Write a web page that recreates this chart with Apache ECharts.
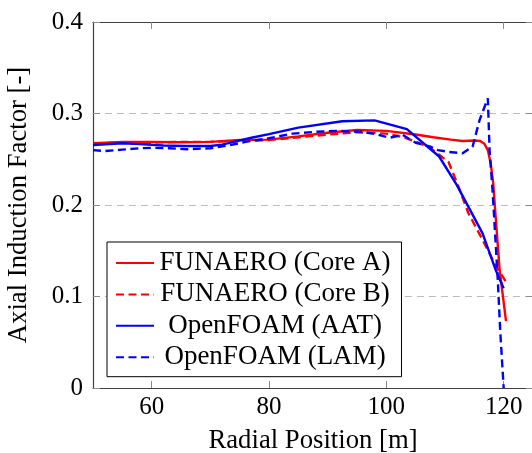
<!DOCTYPE html>
<html>
<head>
<meta charset="utf-8">
<script src="https://cdn.jsdelivr.net/npm/echarts@6/dist/echarts.min.js"></script>
<style>
  html, body { margin: 0; padding: 0; background: #fff; }
  #chartmain { width: 532px; height: 453px; }
</style>
</head>
<body>
<div id="chartmain"></div>
<script>
// values
var xTicks = [60, 80, 100, 120];
var yTicks = [0, 0.1, 0.2, 0.3, 0.4];

var names = ['FUNAERO (Core A)', 'FUNAERO (Core B)', 'OpenFOAM (AAT)', 'OpenFOAM (LAM)'];

var xCoreA = [50, 55, 60, 65, 70, 75, 80, 85, 90, 95, 100, 105, 108, 111, 113, 115, 116, 116.7, 117.3, 117.8, 118.2, 118.6, 119.3, 120.4];
var yCoreA = [0.2675, 0.269, 0.269, 0.2685, 0.269, 0.271, 0.2715, 0.275, 0.279, 0.282, 0.281, 0.277, 0.274, 0.2715, 0.270, 0.2705, 0.270, 0.267, 0.26, 0.245, 0.225, 0.19, 0.13, 0.073];

var xCoreB = [50, 55, 60, 65, 70, 75, 80, 85, 90, 95, 100, 103, 105.5, 107.5, 109, 110.6, 112.3, 114, 116.4, 118.7, 120.4];
var yCoreB = [0.267, 0.268, 0.268, 0.269, 0.269, 0.270, 0.271, 0.274, 0.277, 0.2795, 0.278, 0.274, 0.268, 0.262, 0.255, 0.247, 0.220, 0.191, 0.162, 0.133, 0.116];

var xAAT = [50, 55, 58, 62, 66, 70, 72, 74, 77, 80, 85, 92.5, 98, 103.5, 109, 112, 114.5, 116.4, 118.7, 120];
var yAAT = [0.2655, 0.2675, 0.2665, 0.265, 0.2645, 0.2645, 0.266, 0.269, 0.2735, 0.2775, 0.2845, 0.2915, 0.2925, 0.283, 0.253, 0.222, 0.192, 0.169, 0.128, 0.109];

var xLAM = [50, 52, 55, 58, 60, 63, 66, 70, 73, 76, 80, 84, 88, 91.5, 96, 98.5, 100.5, 102.8, 105, 107.4, 108.8, 110.7, 113, 114.7, 115.9, 117.3, 117.6, 118.1, 118.6, 119, 119.4, 120];
var yLAM = [0.260, 0.259, 0.2605, 0.262, 0.2625, 0.262, 0.261, 0.262, 0.265, 0.269, 0.273, 0.278, 0.280, 0.281, 0.280, 0.277, 0.2735, 0.2765, 0.268, 0.264, 0.260, 0.258, 0.2565, 0.2637, 0.293, 0.3166, 0.26, 0.2165, 0.162, 0.118, 0.064, 0.0];

function zip(xs, ys) {
    return xs.map(function (x, i) { return [x, ys[i]]; });
}

var serif = '"Liberation Serif", "DejaVu Serif", serif';
var frameColor = '#404040';
var tickColor = '#8a8a8a';

function mkLine(name, xs, ys, color, dashed) {
    return {
        name: name,
        type: 'line',
        data: zip(xs, ys),
        symbol: 'none',
        clip: true,
        lineStyle: { color: color, width: 2.4, type: dashed ? [8, 4.5] : 'solid' },
        itemStyle: { color: color }
    };
}

var myChart = echarts.init(document.getElementById('chartmain'));
var option = {
    animation: false,
    backgroundColor: '#fff',
    grid: { left: 93, top: 22, width: 440, height: 366, outerBoundsMode: 'none' },
    legend: {
        orient: 'vertical',
        left: 107,
        top: 242,
        padding: [7.5, 11, 6, 8],
        itemWidth: 38,
        itemHeight: 14,
        itemGap: 4.4,
        backgroundColor: '#fff',
        borderColor: '#000',
        borderWidth: 1,
        borderRadius: 0,
        itemStyle: { opacity: 0 },
        data: names,
        formatter: function (n) { return '{c|' + n + '}'; },
        textStyle: {
            color: '#000',
            fontSize: 27,
            fontFamily: serif,
            rich: {
                c: { width: 232, align: 'center', fontSize: 27, fontFamily: serif, color: '#000' }
            }
        }
    },
    xAxis: [
        {
            type: 'value', min: 50, max: 125, position: 'bottom',
            name: 'Radial Position [m]', nameLocation: 'middle', nameGap: 39,
            nameTextStyle: { fontFamily: serif, fontSize: 26.7, color: '#000' },
            axisLine: { show: true, onZero: false, lineStyle: { color: frameColor, width: 1.2 } },
            axisTick: { show: true, inside: true, length: 7, customValues: xTicks, lineStyle: { color: tickColor } },
            axisLabel: { customValues: xTicks, margin: 7, fontFamily: serif, fontSize: 25, color: '#000' },
            splitLine: { show: false }
        },
        {
            type: 'value', min: 50, max: 125, position: 'top',
            axisLine: { show: true, onZero: false, lineStyle: { color: frameColor, width: 1.2 } },
            axisTick: { show: true, inside: true, length: 7, customValues: xTicks, lineStyle: { color: tickColor } },
            axisLabel: { show: false },
            splitLine: { show: false }
        }
    ],
    yAxis: [
        {
            type: 'value', min: 0, max: 0.4, interval: 0.1, position: 'left',
            name: 'Axial Induction Factor [-]', nameLocation: 'middle', nameGap: 61,
            nameTextStyle: { fontFamily: serif, fontSize: 26.7, color: '#000' },
            axisLine: { show: true, onZero: false, lineStyle: { color: frameColor, width: 1.2 } },
            axisTick: { show: true, inside: true, length: 7, lineStyle: { color: tickColor } },
            axisLabel: {
                margin: 10, fontFamily: serif, fontSize: 25, color: '#000',
                formatter: function (v) { return yTicks.indexOf(+v.toFixed(1)) >= 0 ? String(+v.toFixed(1)) : ''; }
            },
            splitLine: { show: true, lineStyle: { color: '#bdbdbd', width: 1, type: [7, 5] } }
        },
        {
            type: 'value', min: 0, max: 0.4, interval: 0.1, position: 'right',
            axisLine: { show: true, onZero: false, lineStyle: { color: frameColor, width: 1.2 } },
            axisTick: { show: true, inside: true, length: 7, lineStyle: { color: tickColor } },
            axisLabel: { show: false },
            splitLine: { show: false }
        }
    ],
    series: [
        mkLine(names[0], xCoreA, yCoreA, '#ff0000', false),
        mkLine(names[1], xCoreB, yCoreB, '#ff0000', true),
        mkLine(names[2], xAAT, yAAT, '#0000ff', false),
        mkLine(names[3], xLAM, yLAM, '#0000ff', true)
    ]
};
myChart.setOption(option);
</script>
</body>
</html>
